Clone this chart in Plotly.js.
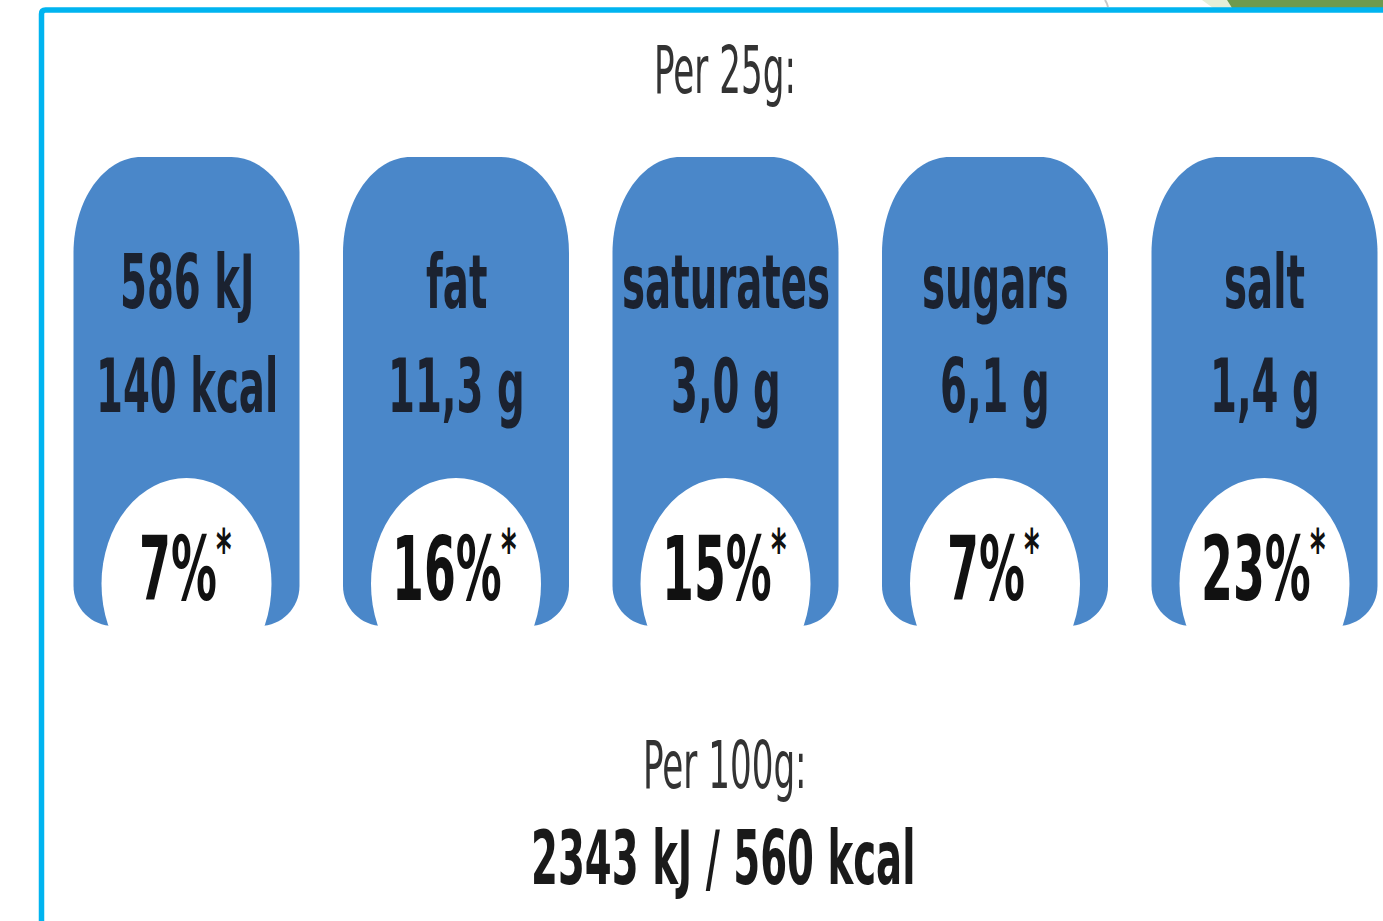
<!DOCTYPE html>
<html><head><meta charset="utf-8">
<script src="https://cdn.plot.ly/plotly-3.0.1.min.js"></script>
<style>
html,body{margin:0;padding:0;background:#fff;}
#chart{width:1383px;height:921px;}
#chart g.annotation-text-g text{transform-box:fill-box;transform-origin:50% 50%;transform:scaleY(1.75);}
</style>
</head><body><div id="chart"></div>
<script>
// ---- data ----
const headerTop = 'Per 25g:';
const nutrientNames = ['586 kJ', 'fat', 'saturates', 'sugars', 'salt'];
const nutrientAmounts = ['140 kcal', '11,3 g', '3,0 g', '6,1 g', '1,4 g'];
const referenceIntakePct = [7, 16, 15, 7, 23];
const footnoteMark = '*';
const headerBottom = 'Per 100g:';
const per100Text = '2343 kJ / 560 kcal';

// ---- layout helpers ----
const W = 1383, H = 921;
const firstCenter = 186.5, step = 269.5;
const halfW = 113, yTop = 157, yBot = 626;
const rx = 68, ry = 96, rb = 40, k = 0.5523;
const blue = '#4A87C9';
const narrow = 'Liberation Sans Narrow, Arial Narrow, DejaVu Sans Condensed, sans-serif';
const pctSize = 51, starSize = 33;
// approximate advance widths (em) of the condensed bold face, used only to centre "NN%" + "*"
const digitEm = 0.626, pctEm = 0.902, starEm = 0.47;

function pillPath(c) {
  const xL = c - halfW, xR = c + halfW;
  return [
    `M${xL},${yBot - rb}`,
    `L${xL},${yTop + ry}`,
    `C${xL},${yTop + ry - k * ry} ${xL + rx - k * rx},${yTop} ${xL + rx},${yTop}`,
    `L${xR - rx},${yTop}`,
    `C${xR - rx + k * rx},${yTop} ${xR},${yTop + ry - k * ry} ${xR},${yTop + ry}`,
    `L${xR},${yBot - rb}`,
    `C${xR},${yBot - rb + k * rb} ${xR - rb + k * rb},${yBot} ${xR - rb},${yBot}`,
    `L${xL + rb},${yBot}`,
    `C${xL + rb - k * rb},${yBot} ${xL},${yBot - rb + k * rb} ${xL},${yBot - rb}`,
    'Z'
  ].join(' ');
}

const shapes = [];
const annotations = [];

// frame decorations
shapes.push({type: 'path', xref: 'x', yref: 'y', path: 'M1105,0 Q1107,3 1108,7', line: {color: '#c8c8c8', width: 2}});
shapes.push({type: 'path', xref: 'x', yref: 'y', path: 'M1202,0 L1227,0 L1232,8 L1213,8 Z', fillcolor: '#e6efd8', line: {width: 0}});
shapes.push({type: 'path', xref: 'x', yref: 'y', path: 'M1227,0 L1383,0 L1383,8 L1232,8 Z', fillcolor: '#6E9A4E', line: {width: 0}});
shapes.push({type: 'path', xref: 'x', yref: 'y', path: 'M41.5,925 L41.5,14 Q41.5,10 45.5,10 L1390,10', line: {color: '#00B4F0', width: 5.5}});

nutrientNames.forEach((name, i) => {
  const c = firstCenter + i * step;
  shapes.push({type: 'path', xref: 'x', yref: 'y', path: pillPath(c), fillcolor: blue, line: {width: 0}});
  shapes.push({type: 'circle', xref: 'x', yref: 'y', x0: c - 85, x1: c + 85, y0: 478, y1: 690, fillcolor: '#ffffff', line: {width: 0}});
  annotations.push({x: c, y: 282, text: name, font: {family: narrow, size: 43, weight: 'bold', color: '#1b2230'}});
  annotations.push({x: c, y: 386, text: nutrientAmounts[i], font: {family: narrow, size: 43, weight: 'bold', color: '#1b2230'}});
  const pctText = referenceIntakePct[i] + '%';
  const textW = (String(referenceIntakePct[i]).length * digitEm + pctEm) * pctSize;
  const starW = starEm * starSize;
  const joinX = c + (textW - starW) / 2;
  annotations.push({x: joinX, y: 569, xanchor: 'right', borderpad: 0, text: pctText, font: {family: narrow, size: pctSize, weight: 'bold', color: '#111111'}});
  annotations.push({x: joinX - 3, y: 549, xanchor: 'left', borderpad: 0, text: footnoteMark, font: {family: narrow, size: starSize, weight: 'bold', color: '#111111'}});
});

annotations.push({x: 725, y: 70, text: headerTop, font: {family: narrow, size: 38, color: '#333333'}});
annotations.push({x: 725, y: 765, text: headerBottom, font: {family: narrow, size: 38, color: '#333333'}});
annotations.push({x: 723, y: 858, text: per100Text, font: {family: narrow, size: 43, weight: 'bold', color: '#1a1a1a'}});
annotations.forEach(a => { a.xref = 'x'; a.yref = 'y'; a.showarrow = false; if (!a.xanchor) a.xanchor = 'center'; a.yanchor = 'middle'; });

const layout = {
  width: W, height: H,
  margin: {l: 0, r: 0, t: 0, b: 0},
  paper_bgcolor: '#ffffff', plot_bgcolor: '#ffffff',
  xaxis: {range: [0, W], visible: false, fixedrange: true},
  yaxis: {range: [H, 0], visible: false, fixedrange: true},
  showlegend: false,
  shapes: shapes,
  annotations: annotations
};
Plotly.newPlot('chart', [{x: [], y: [], type: 'scatter'}], layout, {displayModeBar: false, staticPlot: true});
</script></body></html>
